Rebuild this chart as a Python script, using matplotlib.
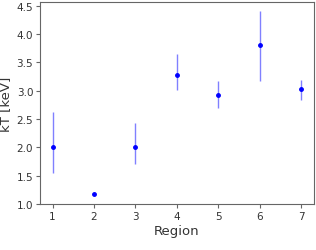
import matplotlib
matplotlib.use("Agg")
import matplotlib.pyplot as plt

regions = [1, 2, 3, 4, 5, 6, 7]
kT = [2.00, 1.18, 2.00, 3.27, 2.93, 3.80, 3.02]
err_low = [0.45, 0.02, 0.30, 0.26, 0.24, 0.63, 0.18]
err_high = [0.63, 0.02, 0.42, 0.38, 0.24, 0.60, 0.17]

textc = '#333333'
spinec = '#666666'
fig = plt.figure(figsize=(3.16, 2.51), dpi=100)
ax = fig.add_axes([0.127, 0.183, 0.866, 0.805])
ax.errorbar(regions, kT, yerr=[err_low, err_high], fmt='.', color='blue',
            ecolor=(0.5, 0.5, 1.0), elinewidth=1.0, markersize=5)
ax.set_xlabel("Region", fontsize=9.5, labelpad=2, color=textc)
ax.set_ylabel("kT [keV]", fontsize=9.5, labelpad=3, color=textc)
ax.tick_params(labelsize=7.5, length=3, pad=2, colors=spinec, labelcolor=textc)
for s in ax.spines.values():
    s.set_color(spinec)
ax.set_yticks([1.0, 1.5, 2.0, 2.5, 3.0, 3.5, 4.0, 4.5])
ax.set_xticks(regions)
fig.savefig("out.png", dpi=100)
